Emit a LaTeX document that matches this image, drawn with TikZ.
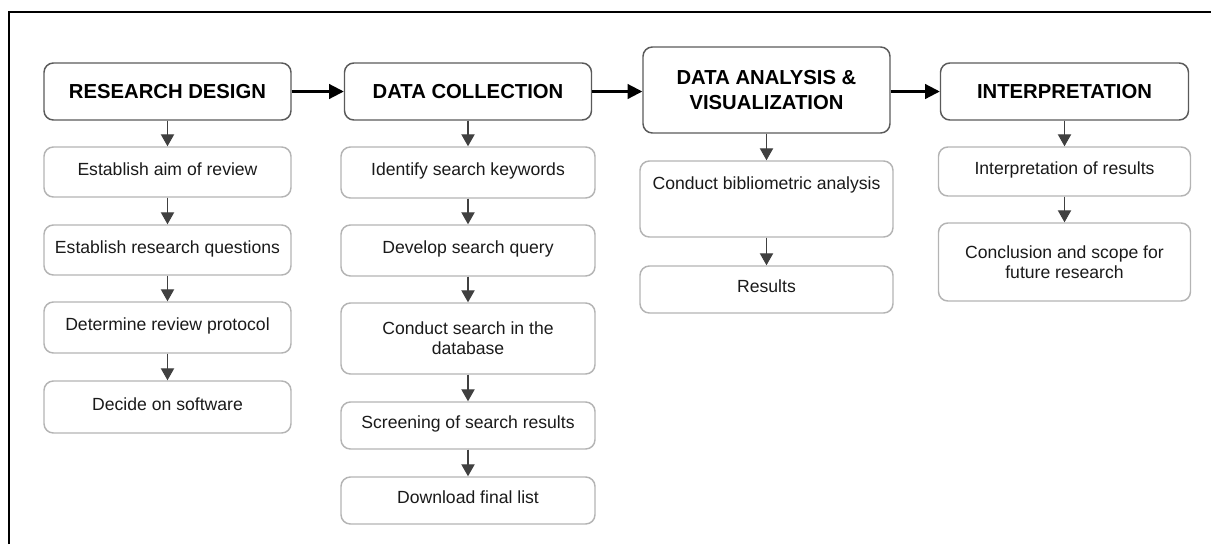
\documentclass[tikz,border=0pt]{standalone}
\usepackage{fontspec}
\setmainfont{Liberation Sans}
\usetikzlibrary{arrows.meta}

\definecolor{phaseline}{HTML}{5A5A5A}
\definecolor{taskline}{HTML}{B4B4B4}
\definecolor{arrowgray}{HTML}{404040}
\definecolor{tasktext}{HTML}{1A1A1A}

\begin{document}
\begin{tikzpicture}[x = 0.75pt, y = -0.75pt,
	every node/.style = {rectangle, rounded corners = 7pt, align = center, inner sep = 2pt},
	phase/.style = {draw = phaseline, line width = 1.1pt, minimum width = 185.25pt, minimum height = 42.75pt, font = \fontsize{15.2}{19}\selectfont\bfseries},
	task/.style = {draw = taskline, line width = 1.1pt, text = tasktext, font = \fontsize{13.2}{14.8}\selectfont, text height = 9.6pt, text depth = 4.6pt},
	twoline/.style = {text height = , text depth = },
	flow/.style = {-{Triangle[length = 11pt, width = 11pt]}, line width = 1.6pt},
	down/.style = {-{Triangle[length = 9pt, width = 10pt]}, draw = arrowgray, fill = arrowgray, line width = 0.8pt}]

	\useasboundingbox (0, 0) rectangle (1211, 544);
	\draw [line width = 1.5pt] (9, 544) -- (9, 12) -- (1211, 12);

	\node [phase] (design) at (167.5, 91.5) {RESEARCH DESIGN};
	\node [phase] (collection) at (468, 91.5) {DATA COLLECTION};
	\node [phase, minimum height = 64.5pt] (analysis) at (766.5, 90) {DATA ANALYSIS \&\\VISUALIZATION};
	\node [phase, minimum width = 186pt] (interpretation) at (1064.5, 91.5) {INTERPRETATION};

	\node [task, minimum width = 185.25pt, minimum height = 37.5pt] (aim) at (167.5, 172) {Establish aim of review};
	\node [task, minimum width = 185.25pt, minimum height = 37.5pt] (questions) at (167.5, 250) {Establish research questions};
	\node [task, minimum width = 185.25pt, minimum height = 38.25pt] (protocol) at (167.5, 327.5) {Determine review protocol};
	\node [task, minimum width = 185.25pt, minimum height = 39pt] (software) at (167.5, 407) {Decide on software};

	\node [task, minimum width = 190.5pt, minimum height = 38.25pt] (keywords) at (468, 172.5) {Identify search keywords};
	\node [task, minimum width = 190.5pt, minimum height = 38.25pt] (query) at (468, 250.5) {Develop search query};
	\node [task, twoline, minimum width = 190.5pt, minimum height = 53.25pt] (search) at (468, 338.5) {Conduct search in the\\database};
	\node [task, minimum width = 190.5pt, minimum height = 35.25pt] (screening) at (468, 425.5) {Screening of search results};
	\node [task, minimum width = 190.5pt, minimum height = 35.25pt] (download) at (468, 500.5) {Download final list};

	\node [task, text depth = 24pt, minimum width = 189.75pt, minimum height = 57pt] (bibliometric) at (766.5, 199) {Conduct bibliometric analysis};
	\node [task, minimum width = 189.75pt, minimum height = 35.25pt] (results) at (766.5, 289.5) {Results};

	\node [task, minimum width = 189pt, minimum height = 36.75pt] (interpret) at (1064.5, 171.5) {Interpretation of results};
	\node [task, twoline, minimum width = 189pt, minimum height = 58.5pt] (conclusion) at (1064.5, 262) {Conclusion and scope for\\future research};

	\draw [flow] (design) -- (collection);
	\draw [flow] (collection.east) -- (collection.east -| analysis.west);
	\draw [flow] (analysis.east |- interpretation.west) -- (interpretation.west);

	\draw [down] (design) -- (aim);
	\draw [down] (aim) -- (questions);
	\draw [down] (questions) -- (protocol);
	\draw [down] (protocol) -- (software);
	\draw [down] (collection) -- (keywords);
	\draw [down] (keywords) -- (query);
	\draw [down] (query) -- (search);
	\draw [down] (search) -- (screening);
	\draw [down] (screening) -- (download);
	\draw [down] (analysis) -- (bibliometric);
	\draw [down] (bibliometric) -- (results);
	\draw [down] (interpretation) -- (interpret);
	\draw [down] (interpret) -- (conclusion);

\end{tikzpicture}
\end{document}
